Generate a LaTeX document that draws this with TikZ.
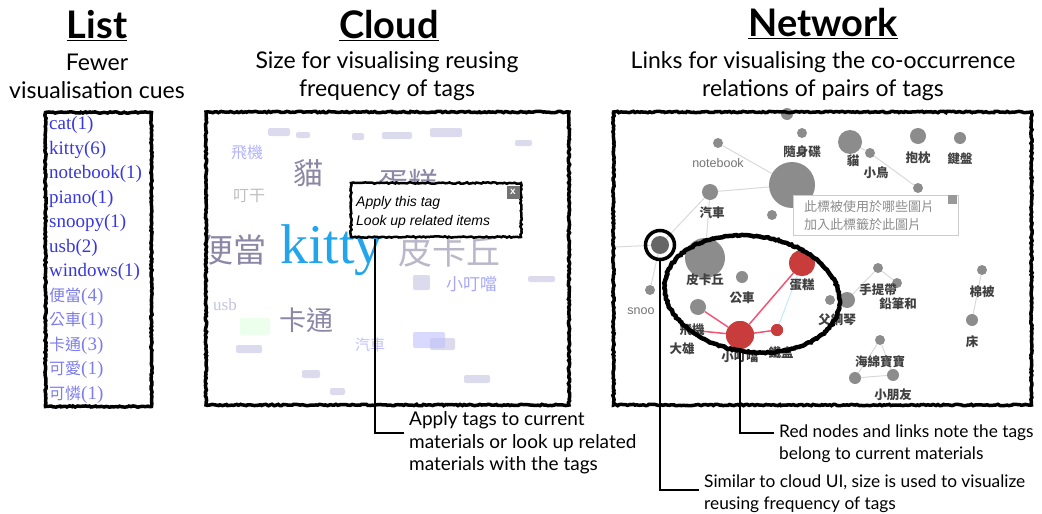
\documentclass[tikz,border=0pt]{standalone}
\usepackage{fontspec}
\setmainfont{Lato}
\newfontfamily\cjk{Noto Sans CJK TC}
\newfontfamily\listfont{Liberation Serif}
\newfontfamily\uifont{Liberation Sans}
\usetikzlibrary{decorations.pathmorphing}

\definecolor{tagblue}{RGB}{55,55,225}
\definecolor{tagcjk}{RGB}{125,125,235}
\definecolor{kittycyan}{RGB}{35,165,235}
\definecolor{cloudgray}{RGB}{140,135,165}
\definecolor{cloudfaint}{RGB}{195,195,225}
\definecolor{netgray}{RGB}{140,140,140}
\definecolor{netred}{RGB}{200,60,60}
\definecolor{linkred}{RGB}{240,85,115}

\tikzset{
  roughbox/.style={draw=black, line width=3.5pt, decorate,
    decoration={random steps, segment length=2pt, amplitude=0.7pt}},
  title/.style={font=\bfseries\fontsize{38}{38}\selectfont},
  subtitle/.style={align=center, font=\fontsize{23}{28}\selectfont},
  note/.style={anchor=west, align=left, inner sep=0pt},
  callout/.style={line width=1.3pt},
  tagitem/.style={anchor=west, inner sep=0pt, text=tagblue,
    font=\listfont\fontsize{19}{19}\selectfont},
  cloudword/.style={anchor=base west, inner sep=0pt},
  blob/.style={fill=cloudfaint, fill opacity=0.6, rounded corners=2pt},
  gnode/.style={circle, fill=netgray, inner sep=0pt},
  rnode/.style={circle, fill=netred, inner sep=0pt},
  nlbl/.style={inner sep=0pt, text=black!75, font=\cjk\bfseries\fontsize{12.5}{12.5}\selectfont},
  glink/.style={draw=black!15, line width=1pt},
  rlink/.style={draw=linkred, line width=1.5pt},
}

\begin{document}
\begin{tikzpicture}[x=1pt,y=-1pt]
  \useasboundingbox (0,0) rectangle (1042,514);

  % Titles
  \node[title] (tlist) at (97,26) {\underline{List}};
  \node[title] (tcloud) at (389,26) {\underline{Cloud}};
  \node[title] (tnet) at (823,24) {\underline{Network}};
  \node[subtitle] (slist) at (97,76) {Fewer\\visualisation cues};
  \node[subtitle] (scloud) at (387,76) {Size for visualising reusing\\frequency of tags};
  \node[subtitle] (snet) at (823,76) {Links for visualising the co-occurrence\\relations of pairs of tags};

  % List of tags
  \foreach \t [count=\i] in {cat(1),kitty(6),notebook(1),piano(1),snoopy(1),usb(2),windows(1)}
    \node[tagitem] (item\i) at (49,100.5+24.5*\i) {\t};
  \foreach \t/\n [count=\i from 8] in {便當/4,公車/1,卡通/3,可愛/1,可憐/1}
    \node[tagitem, text=tagcjk] (item\i) at (49,100.5+24.5*\i) {{\cjk\fontsize{16}{16}\selectfont\t}(\n)};
  \node[roughbox, minimum width=106pt, minimum height=294pt] (listbox) at (98.5,259.5) {};

  % Cloud of tags
  \begin{scope}
    \clip (207,112) rectangle (568,403);
    \fill[blob] (268,128) rectangle (290,136);
    \fill[blob] (296,132) rectangle (310,138);
    \fill[blob] (352,133) rectangle (364,140);
    \fill[blob] (382,132) rectangle (412,139);
    \fill[blob] (430,128) rectangle (462,137);
    \fill[blob] (515,140) rectangle (532,146);
    \fill[blob] (413,275) rectangle (430,290);
    \fill[blob] (528,276) rectangle (555,282);
    \fill[blob] (430,338) rectangle (455,350);
    \fill[blob, fill=blue!25] (413,332) rectangle (445,348);
    \fill[blob] (302,370) rectangle (320,378);
    \fill[blob] (330,388) rectangle (345,395);
    \fill[blob] (464,375) rectangle (490,383);
    \fill[blob] (236,345) rectangle (262,353);
    \fill[blob, fill=green!12] (240,318) rectangle (270,335);
    \node[cloudword, text=blue!30, font=\cjk\fontsize{16}{16}\selectfont] (wplane) at (231,158) {飛機};
    \node[cloudword, text=black!25, font=\cjk\fontsize{16}{16}\selectfont] (wding) at (233,201) {叮干};
    \node[cloudword, text=cloudgray, font=\cjk\fontsize{30}{30}\selectfont] (wcat) at (293,184) {貓};
    \node[cloudword, text=cloudgray, font=\cjk\fontsize{30}{30}\selectfont] (wcake) at (378,194) {蛋糕};
    \node[cloudword, text=cloudgray!60, font=\cjk\fontsize{34}{34}\selectfont] (wpika) at (398,264) {皮卡丘};
    \node[cloudword, text=cloudgray, font=\cjk\fontsize{33}{33}\selectfont] (wbento) at (200,262) {便當};
    \node[cloudword, text=kittycyan, font=\listfont\fontsize{56}{56}\selectfont] (wkitty) at (280,263) {kitty};
    \node[cloudword, text=blue!35, font=\cjk\fontsize{17}{17}\selectfont] (wdora) at (446,290) {小叮噹};
    \node[cloudword, text=cloudfaint, font=\listfont\fontsize{17}{17}\selectfont] (wusb) at (213,310) {usb};
    \node[cloudword, text=cloudgray, font=\cjk\fontsize{27}{27}\selectfont] (wcartoon) at (279,330) {卡通};
    \node[cloudword, text=blue!25, font=\cjk\fontsize{15}{15}\selectfont] (wcar) at (355,350) {汽車};
  \end{scope}
  \node[roughbox, minimum width=363pt, minimum height=293pt] (cloudbox) at (387.5,258.5) {};

  % Pop-up menu on a tag
  \node[roughbox, line width=2.5pt, fill=white, minimum width=170pt, minimum height=54pt] (popup) at (436,210) {};
  \node[note, align=left, font=\uifont\itshape\fontsize{14}{19}\selectfont] (popmenu) at (356,212) {Apply this tag\\Look up related items};
  \node[fill=black!55, minimum size=13pt, inner sep=0pt, text=white,
    font=\uifont\bfseries\fontsize{10}{10}\selectfont] (popx) at (513,192) {x};
  \coordinate (popfoot) at (375,239);

  % Network of tags: links
  \coordinate (leftA) at (615,247);
  \node[gnode, minimum size=10pt] (nb) at (718,143) {};
  \node[gnode, minimum size=12pt] (topn) at (787,114) {};
  \node[gnode, minimum size=10pt] (midn) at (802,133) {};
  \node[gnode, minimum size=46pt] (usbn) at (792,185) {};
  \node[gnode, minimum size=24pt] (catn) at (850,142) {};
  \node[gnode, minimum size=10pt] (birdn) at (870,153) {};
  \node[gnode, minimum size=16pt] (pillown) at (918,136) {};
  \node[gnode, minimum size=12pt] (keybn) at (960,138) {};
  \node[gnode, minimum size=16pt] (carn) at (710,192) {};
  \node[gnode, minimum size=10pt] (smalln) at (772,215) {};
  \node[gnode, minimum size=10pt] (rightn) at (918,188) {};
  \node[gnode, fill=black!60, minimum size=18pt] (ringn) at (660,245) {};
  \node[gnode, minimum size=10pt] (snoon) at (650,290) {};
  \node[gnode, minimum size=40pt] (pikan) at (705,258) {};
  \node[gnode, minimum size=12pt] (busn) at (742,277) {};
  \node[gnode, minimum size=16pt] (planen) at (698,307) {};
  \node[gnode, minimum size=10pt] (bag1n) at (878,268) {};
  \node[gnode, minimum size=10pt] (bag2n) at (897,283) {};
  \node[gnode, minimum size=10pt] (piano1n) at (830,300) {};
  \node[gnode, minimum size=16pt] (piano2n) at (847,300) {};
  \node[gnode, minimum size=10pt] (quiltn) at (982,270) {};
  \node[gnode, minimum size=12pt] (bedn) at (972,320) {};
  \node[gnode, minimum size=10pt] (spongen) at (880,340) {};
  \node[gnode, minimum size=12pt] (kid1n) at (855,378) {};
  \node[gnode, minimum size=12pt] (kid2n) at (893,375) {};
  \draw[glink] (nb) -- (usbn);
  \draw[glink] (carn) -- (usbn);
  \draw[glink] (carn) -- (ringn);
  \draw[glink] (carn) -- (pikan);
  \draw[glink] (leftA) -- (ringn);
  \draw[glink] (ringn) -- (snoon);
  \draw[glink] (birdn) -- (rightn);
  \draw[glink] (catn) -- (birdn);
  \draw[glink] (bag1n) -- (piano2n);
  \draw[glink] (bag1n) -- (bag2n);
  \draw[glink] (quiltn) -- (bedn);
  \draw[glink] (spongen) -- (kid1n);
  \draw[glink] (spongen) -- (kid2n);
  \draw[glink] (kid1n) -- (kid2n);

  % Network of tags: red nodes
  \node[rnode, minimum size=26pt] (caken) at (802,263) {};
  \node[rnode, minimum size=28pt] (doran) at (740,335) {};
  \node[rnode, minimum size=12pt] (tinn) at (777,330) {};
  \coordinate (leftB) at (690,330);
  \draw[draw=cyan!25, line width=1pt] (tinn) -- (caken);
  \draw[rlink] (planen) -- (doran);
  \draw[rlink] (leftB) -- (doran);
  \draw[rlink] (doran) -- (tinn);
  \draw[rlink] (doran) -- (caken);
  \node[rnode, minimum size=26pt] at (caken) {};
  \node[rnode, minimum size=28pt] at (doran) {};
  \node[rnode, minimum size=12pt] at (tinn) {};

  % Network of tags: labels
  \node[nlbl, font=\uifont\fontsize{12.5}{12.5}\selectfont, text=black!55] (lnb) at (718,163) {notebook};
  \node[nlbl] (lusb) at (802,152) {隨身碟};
  \node[nlbl] (lcat) at (853,161) {貓};
  \node[nlbl] (lbird) at (876,173) {小鳥};
  \node[nlbl] (lpillow) at (918,158) {抱枕};
  \node[nlbl] (lkeyb) at (960,159) {鍵盤};
  \node[nlbl] (lcar) at (712,213) {汽車};
  \node[nlbl] (lpika) at (705,280) {皮卡丘};
  \node[nlbl] (lbus) at (742,298) {公車};
  \node[nlbl] (lcake) at (802,285) {蛋糕};
  \node[nlbl] (lplane) at (692,330) {飛機};
  \node[nlbl] (ldora) at (740,357) {小叮噹};
  \node[nlbl] (lnobita) at (682,349) {大雄};
  \node[nlbl] (ltin) at (781,353) {鐵盒};
  \node[nlbl] (lpiano) at (837,320) {父鋼琴};
  \node[nlbl] (lbag) at (878,290) {手提帶};
  \node[nlbl] (lpencil) at (898,304) {鉛筆和};
  \node[nlbl] (lquilt) at (982,292) {棉被};
  \node[nlbl] (lbed) at (972,342) {床};
  \node[nlbl] (lsponge) at (880,362) {海綿寶寶};
  \node[nlbl] (lkid) at (893,395) {小朋友};
  \node[nlbl, font=\uifont\fontsize{12.5}{12.5}\selectfont, text=black!55] (lsnoo) at (641,311) {snoo};

  % Network of tags: pop-up
  \node[draw=black!20, fill=white, minimum width=165pt, minimum height=40pt] (netpop) at (876,215) {};
  \node[note, align=left, text=black!45, font=\cjk\fontsize{13}{18}\selectfont] (netmenu) at (804,216) {此標被使用於哪些圖片\\加入此標籤於此圖片};
  \node[fill=black!40, minimum size=9pt, inner sep=0pt] (netx) at (952,199) {};

  % Marks drawn by hand
  \node[circle, draw=black, line width=3.5pt, minimum size=29pt] (ringmark) at (ringn) {};
  \draw[roughbox, line width=4.5pt, rotate around={-8:(752,294)}] (752,294) ellipse [x radius=88pt, y radius=58pt];
  \node[roughbox, minimum width=418pt, minimum height=293pt] (netbox) at (822.5,258.5) {};

  % Notes
  \node[note, font=\fontsize{19}{22.5}\selectfont] (ann1) at (409,443) {Apply tags to current\\materials or look up related\\materials with the tags};
  \node[note, font=\fontsize{17.3}{22}\selectfont] (ann2) at (779,444) {Red nodes and links note the tags\\belong to current materials};
  \node[note, font=\fontsize{17.3}{22}\selectfont] (ann3) at (704,494) {Similar to cloud UI, size is used to visualize\\reusing frequency of tags};
  \draw[callout] (popfoot) |- ([xshift=-5pt,yshift=10pt]ann1.west);
  \draw[callout] (doran.south) |- ([xshift=-5pt,yshift=11pt]ann2.west);
  \draw[callout] (ringmark.south) |- ([xshift=-5pt,yshift=4pt]ann3.west);
\end{tikzpicture}
\end{document}
